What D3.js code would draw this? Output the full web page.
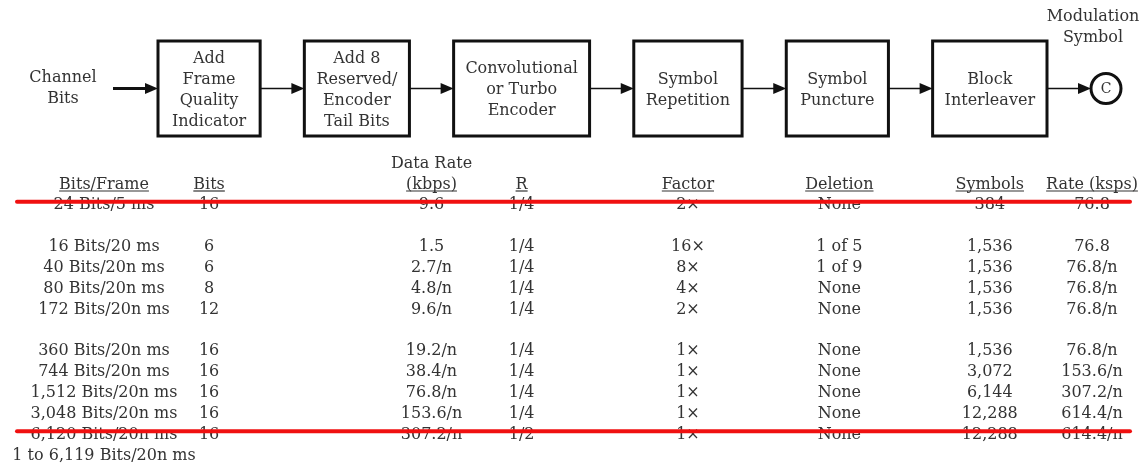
<!DOCTYPE html>
<html>
<head>
<meta charset="utf-8">
<script src="https://cdn.jsdelivr.net/npm/d3@7"></script>
<style>
  body { margin: 0; background: #fff; }
  svg { filter: blur(0.35px); }
  text { font-family: "DejaVu Serif", serif; fill: #333; }
</style>
</head>
<body>
<div id="chart"></div>
<script>
// Diagram content
const inputLabel = ['Channel', 'Bits']
const outputLabel = ['Modulation', 'Symbol']
const outputNode = 'C'
const stageLabels = [
    ['Add', 'Frame', 'Quality', 'Indicator'],
    ['Add 8', 'Reserved/', 'Encoder', 'Tail Bits'],
    ['Convolutional', 'or Turbo', 'Encoder'],
    ['Symbol', 'Repetition'],
    ['Symbol', 'Puncture'],
    ['Block', 'Interleaver']
]

// Table content
const headerTop = ['', '', 'Data Rate', '', '', '', '', '']
const headers = ['Bits/Frame', 'Bits', '(kbps)', 'R', 'Factor', 'Deletion', 'Symbols', 'Rate (ksps)']
const bitsPerFrame = ['24 Bits/5 ms', '16 Bits/20 ms', '40 Bits/20n ms', '80 Bits/20n ms', '172 Bits/20n ms',
    '360 Bits/20n ms', '744 Bits/20n ms', '1,512 Bits/20n ms', '3,048 Bits/20n ms', '6,120 Bits/20n ms', '1 to 6,119 Bits/20n ms']
const qualityBits = ['16', '6', '6', '8', '12', '16', '16', '16', '16', '16', '']
const dataRate = ['9.6', '1.5', '2.7/n', '4.8/n', '9.6/n', '19.2/n', '38.4/n', '76.8/n', '153.6/n', '307.2/n', '']
const codeRate = ['1/4', '1/4', '1/4', '1/4', '1/4', '1/4', '1/4', '1/4', '1/4', '1/2', '']
const repetition = ['2×', '16×', '8×', '4×', '2×', '1×', '1×', '1×', '1×', '1×', '']
const deletion = ['None', '1 of 5', '1 of 9', 'None', 'None', 'None', 'None', 'None', 'None', 'None', '']
const symbols = ['384', '1,536', '1,536', '1,536', '1,536', '1,536', '3,072', '6,144', '12,288', '12,288', '']
const symbolRate = ['76.8', '76.8', '76.8/n', '76.8/n', '76.8/n', '76.8/n', '153.6/n', '307.2/n', '614.4/n', '614.4/n', '']
const rowGroup = [0, 1, 1, 1, 1, 2, 2, 2, 2, 2, 2]
const struckRows = ['24 Bits/5 ms', '6,120 Bits/20n ms']

const columns = [bitsPerFrame, qualityBits, dataRate, codeRate, repetition, deletion, symbols, symbolRate]

const width = 1144
const height = 465
const fontSize = 16
const lineGap = 21

const svg = d3.select('#chart').append('svg').attr('width', width).attr('height', height)
const diagramGroup = svg.append('g').attr('class', 'diagramGroup')
const tableGroup = svg.append('g').attr('class', 'tableGroup')

// Box widths follow their text, then the whole row is fitted by a scale
const measure = svg.append('text').attr('font-size', fontSize)
const textWidth = s => { measure.text(s); return measure.node().getComputedTextLength() }
const boxWidths = stageLabels.map(lines => Math.max(104, d3.max(lines, textWidth) + 26))
measure.remove()

const boxGap = 45
let cursor = 0
const stages = stageLabels.map((lines, i) => {
    const s = { lines: lines, x0: cursor, x1: cursor + boxWidths[i] }
    cursor += boxWidths[i] + boxGap
    return s
})
const x = d3.scaleLinear().domain([0, cursor - boxGap]).range([158, 1047])
const y = d3.scaleLinear().domain([0, 1]).range([41, 136])
const flowY = y(0.5)

function arrow(g, x0, x1, w) {
    g.append('line').attr('x1', x0).attr('x2', x1 - 8).attr('y1', flowY).attr('y2', flowY)
        .attr('stroke', '#111').attr('stroke-width', w)
    g.append('path').attr('d', `M${x1},${flowY} L${x1 - 13},${flowY - 5.5} L${x1 - 13},${flowY + 5.5} Z`).attr('fill', '#111')
}

function lines(g, arr, cx, cy, size) {
    g.selectAll(null).data(arr).enter().append('text')
        .attr('x', cx)
        .attr('y', (d, i) => cy + (i - (arr.length - 1) / 2) * lineGap)
        .attr('dy', '0.35em')
        .attr('text-anchor', 'middle')
        .attr('font-size', size)
        .text(d => d)
}

// input
lines(diagramGroup, inputLabel, x(0) - 95, flowY - 2, fontSize)
arrow(diagramGroup, x(0) - 45, x(0), 3)

// boxes
const boxes = diagramGroup.selectAll('g.stage').data(stages).enter().append('g').attr('class', 'stage')
boxes.append('rect')
    .attr('x', d => x(d.x0))
    .attr('y', y(0))
    .attr('width', d => x(d.x1) - x(d.x0))
    .attr('height', y(1) - y(0))
    .attr('fill', 'none')
    .attr('stroke', '#111')
    .attr('stroke-width', 3)
boxes.each(function(d) { lines(d3.select(this), d.lines, (x(d.x0) + x(d.x1)) / 2, flowY, fontSize) })
stages.slice(1).forEach((s, i) => arrow(diagramGroup, x(stages[i].x1), x(s.x0), 1.6))

// output
const last = stages[stages.length - 1]
const r = 15
const cx = x(last.x1) + 44 + r
arrow(diagramGroup, x(last.x1), cx - r, 1.6)
diagramGroup.append('circle').attr('cx', cx).attr('cy', flowY).attr('r', r)
    .attr('fill', '#fff').attr('stroke', '#111').attr('stroke-width', 3)
diagramGroup.append('text').attr('x', cx).attr('y', flowY).attr('dy', '0.35em')
    .attr('text-anchor', 'middle').attr('font-size', 14).text(outputNode)
lines(diagramGroup, outputLabel, cx - 13, 25.5, fontSize)

// table columns sit under the diagram stages
const centre = s => (x(s.x0) + x(s.x1)) / 2
const colX = [
    104,
    centre(stages[0]),
    (x(stages[1].x1) + x(stages[2].x0)) / 2,
    centre(stages[2]),
    centre(stages[3]),
    centre(stages[4]) + 2,
    centre(stages[5]),
    cx - 14
]
const slot = bitsPerFrame.map((d, i) => i + rowGroup[i] + 1)
const rowY = d3.scaleLinear().domain([0, 13]).range([183, 454])

tableGroup.selectAll('text.top').data(headerTop).enter().append('text')
    .attr('class', 'top')
    .attr('x', (d, i) => colX[i]).attr('y', rowY(-1) + 0.5).attr('dy', '0.35em')
    .attr('text-anchor', 'middle').attr('font-size', fontSize).text(d => d)

const head = tableGroup.selectAll('g.head').data(headers).enter().append('g').attr('class', 'head')
head.append('text')
    .attr('x', (d, i) => colX[i]).attr('y', rowY(0)).attr('dy', '0.35em')
    .attr('text-anchor', 'middle').attr('font-size', fontSize).text(d => d)
head.each(function(d, i) {
    const w = d3.select(this).select('text').node().getComputedTextLength()
    d3.select(this).append('line')
        .attr('x1', colX[i] - w / 2).attr('x2', colX[i] + w / 2)
        .attr('y1', rowY(0) + 8).attr('y2', rowY(0) + 8)
        .attr('stroke', '#333').attr('stroke-width', 1.2)
})

columns.forEach((col, c) => {
    tableGroup.selectAll(null).data(col).enter().append('text')
        .attr('x', colX[c])
        .attr('y', (d, i) => rowY(slot[i]))
        .attr('dy', '0.35em')
        .attr('text-anchor', 'middle')
        .attr('font-size', fontSize)
        .text(d => d)
})

// red strike-through on removed rows
tableGroup.selectAll('line.strike').data(struckRows).enter().append('line')
    .attr('class', 'strike')
    .attr('x1', 17).attr('x2', 1130)
    .attr('y1', d => rowY(slot[bitsPerFrame.indexOf(d)]) - 2)
    .attr('y2', d => rowY(slot[bitsPerFrame.indexOf(d)]) - 2)
    .attr('stroke', '#f01010').attr('stroke-width', 4).attr('stroke-linecap', 'round')
</script>
</body>
</html>
